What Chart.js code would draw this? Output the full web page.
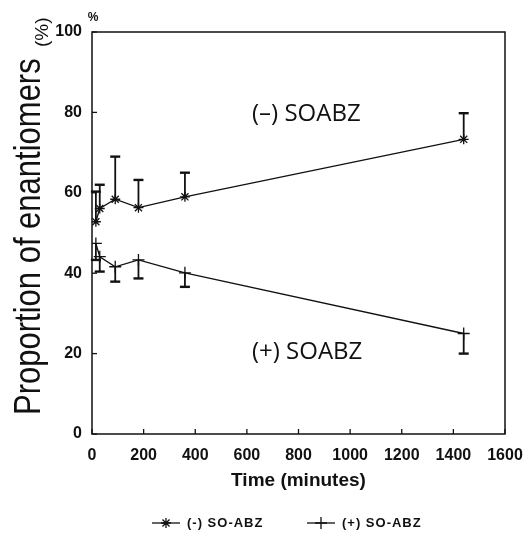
<!DOCTYPE html>
<html>
<head>
<meta charset="utf-8">
<script src="https://cdn.jsdelivr.net/npm/chart.js@4.4.0/dist/chart.umd.min.js"></script>
<style>
  body { margin: 0; background: #fff; }
  canvas { display: block; }
</style>
</head>
<body>
<canvas id="chart" width="526" height="539"></canvas>
<script>
// tempos de coleta (minutos)
const times = [15, 30, 90, 180, 360, 1440];
// (-) SO-ABZ: média e topo da barra de erro
const minusMean = [52.8, 56.1, 58.4, 56.3, 59.0, 73.3];
const minusUpper = [60.3, 62.0, 69.0, 63.2, 65.0, 79.8];
// (+) SO-ABZ: média e base da barra de erro
const plusMean = [47.4, 44.1, 41.6, 43.3, 40.1, 25.0];
const plusLower = [43.3, 40.4, 37.9, 38.7, 36.6, 20.0];

const xTicks = [0, 200, 400, 600, 800, 1000, 1200, 1400, 1600];
const yTicks = [0, 20, 40, 60, 80, 100];

const ink = '#111';

// barras de erro, moldura, ticks internos e textos
const extras = {
  id: 'extras',
  afterDatasetsDraw(chart) {
    const ctx = chart.ctx;
    const xs = chart.scales.x, ys = chart.scales.y;
    const area = chart.chartArea;
    ctx.save();
    ctx.strokeStyle = ink;
    ctx.fillStyle = ink;

    // barras de erro
    function bar(t, from, to) {
      const px = xs.getPixelForValue(t);
      const p1 = ys.getPixelForValue(from), p2 = ys.getPixelForValue(to);
      ctx.lineWidth = 1.8;
      ctx.beginPath(); ctx.moveTo(px, p1); ctx.lineTo(px, p2); ctx.stroke();
      ctx.lineWidth = 2.4;
      ctx.beginPath(); ctx.moveTo(px - 5, p2); ctx.lineTo(px + 5, p2); ctx.stroke();
    }
    times.forEach((t, i) => {
      bar(t, minusMean[i], minusUpper[i]);
      bar(t, plusMean[i], plusLower[i]);
    });

    // moldura
    ctx.lineWidth = 1.5;
    ctx.strokeRect(area.left, area.top, area.right - area.left, area.bottom - area.top);

    // ticks para dentro
    ctx.lineWidth = 1.3;
    xTicks.forEach(v => {
      const px = xs.getPixelForValue(v);
      ctx.beginPath(); ctx.moveTo(px, area.bottom); ctx.lineTo(px, area.bottom - 5); ctx.stroke();
    });
    yTicks.forEach(v => {
      const py = ys.getPixelForValue(v);
      ctx.beginPath(); ctx.moveTo(area.left, py); ctx.lineTo(area.left + 5, py); ctx.stroke();
    });

    // rótulos dentro do gráfico
    ctx.font = '24px "Open Sans"';
    ctx.textBaseline = 'middle';
    ctx.textAlign = 'left';
    ctx.fillText('(–) SOABZ', 252, 114);
    ctx.fillText('(+) SOABZ', 252, 352);

    // "%" acima do eixo
    ctx.font = 'bold 12px "Liberation Sans"';
    ctx.textAlign = 'center';
    ctx.fillText('%', 93, 18);

    // título do eixo y (texto esticado)
    ctx.save();
    ctx.translate(40, 415);
    ctx.rotate(-Math.PI / 2);
    ctx.scale(1, 1.2);
    ctx.font = '31px "Liberation Sans"';
    ctx.textAlign = 'left';
    ctx.textBaseline = 'alphabetic';
    ctx.fillText('Proportion of enantiomers', 0, 0);
    ctx.restore();
    ctx.save();
    ctx.translate(43, 47);
    ctx.rotate(-Math.PI / 2);
    ctx.font = '19px "Liberation Sans"';
    ctx.textAlign = 'left';
    ctx.fillText('(%)', 0, 0);
    ctx.restore();

    // legenda
    ctx.font = 'bold 13px "Liberation Sans"';
    ctx.textAlign = 'left';
    ctx.textBaseline = 'middle';
    if ('letterSpacing' in ctx) ctx.letterSpacing = '1px';
    const ly = 523;
    const items = [
      { x: 152, style: 'star', r: 5, text: '(-) SO-ABZ' },
      { x: 307, style: 'cross', r: 6, text: '(+) SO-ABZ' }
    ];
    items.forEach(it => {
      ctx.lineWidth = 1.3;
      ctx.beginPath(); ctx.moveTo(it.x, ly); ctx.lineTo(it.x + 28, ly); ctx.stroke();
      Chart.helpers.drawPoint(ctx, { pointStyle: it.style, radius: it.r, borderWidth: 1.3, rotation: 0 }, it.x + 14, ly);
      ctx.fillText(it.text, it.x + 35, ly);
    });
    ctx.restore();
  }
};

new Chart(document.getElementById('chart'), {
  type: 'line',
  data: {
    datasets: [
      {
        label: '(-) SO-ABZ',
        data: times.map((t, i) => ({ x: t, y: minusMean[i] })),
        borderColor: ink,
        backgroundColor: ink,
        borderWidth: 1.3,
        pointStyle: 'star',
        pointRadius: 5,
        pointBorderWidth: 1.3,
        tension: 0
      },
      {
        label: '(+) SO-ABZ',
        data: times.map((t, i) => ({ x: t, y: plusMean[i] })),
        borderColor: ink,
        backgroundColor: ink,
        borderWidth: 1.3,
        pointStyle: 'cross',
        pointRadius: 6,
        pointBorderWidth: 1.3,
        tension: 0
      }
    ]
  },
  options: {
    responsive: false,
    animation: false,
    layout: { padding: { left: 0, right: 21, top: 32, bottom: 0 } },
    plugins: {
      legend: { display: false },
      tooltip: { enabled: false }
    },
    scales: {
      x: {
        type: 'linear',
        min: 0,
        max: 1600,
        afterFit: s => { s.height = 105; s.paddingRight = 0; s.paddingLeft = 0; },
        afterBuildTicks: s => { s.ticks = xTicks.map(v => ({ value: v })); },
        grid: { display: false, drawTicks: false },
        border: { display: false },
        ticks: {
          color: ink, padding: 12, maxRotation: 0,
          callback: v => String(v),
          font: { family: 'Liberation Sans', size: 16, weight: 'bold' }
        },
        title: {
          display: true,
          text: 'Time (minutes)',
          color: ink,
          padding: { top: 0, bottom: 47 },
          font: { family: 'Liberation Sans', size: 19, weight: 'bold' }
        }
      },
      y: {
        min: 0,
        max: 100,
        afterFit: s => { s.width = 92; s.paddingTop = 0; s.paddingBottom = 0; },
        afterBuildTicks: s => { s.ticks = yTicks.map(v => ({ value: v })); },
        grid: { display: false, drawTicks: false },
        border: { display: false },
        ticks: {
          color: ink, padding: 10,
          callback: v => String(v),
          font: { family: 'Liberation Sans', size: 16, weight: 'bold' }
        }
      }
    }
  },
  plugins: [extras]
});
</script>
</body>
</html>
